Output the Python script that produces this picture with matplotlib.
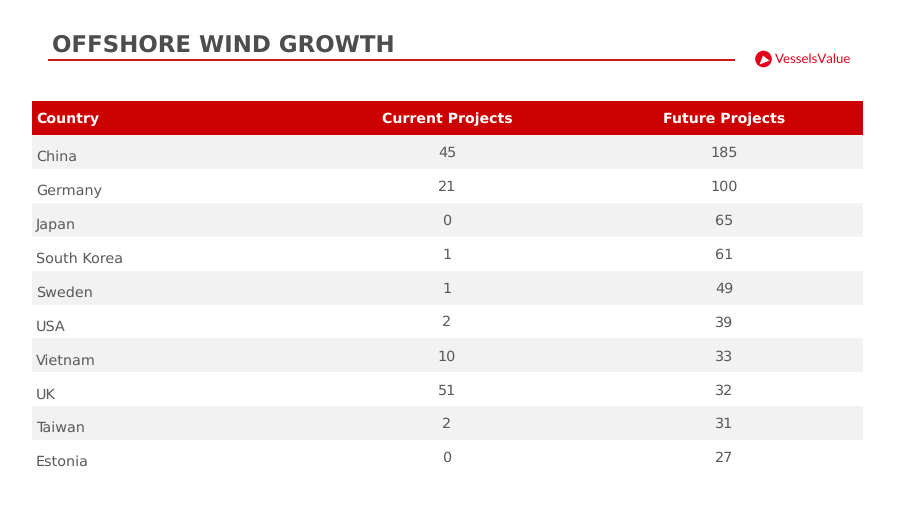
import matplotlib
matplotlib.use('Agg')
import matplotlib.pyplot as plt
from matplotlib.patches import Rectangle, Circle, Polygon

# table contents
columns = ['Country', 'Current Projects', 'Future Projects']
countries = ['China', 'Germany', 'Japan', 'South Korea', 'Sweden', 'USA',
             'Vietnam', 'UK', 'Taiwan', 'Estonia']
current_projects = [45, 21, 0, 1, 1, 2, 10, 51, 2, 0]
future_projects = [185, 100, 65, 61, 49, 39, 33, 32, 31, 27]

RED = '#cc0000'
GREY = '#595959'

plt.rcParams['font.family'] = ['DejaVu Sans']
plt.rcParams['text.hinting'] = 'no_hinting'

fig = plt.figure(figsize=(9.02, 5.08), dpi=100)
ax = fig.add_axes([0, 0, 1, 1])
ax.set_xlim(0, 902)
ax.set_ylim(508, 0)
ax.axis('off')

# title and rule
ax.text(52, 52, 'OFFSHORE WIND GROWTH', fontsize=16.5, fontweight='bold',
        color='#4d4d4d', va='baseline', ha='left')
ax.plot([48, 735], [59.5, 59.5], color=RED, lw=1.3, solid_capstyle='butt')

# logo
ax.add_patch(Circle((763.5, 59), 8.3, color='#e2001a', lw=0))
ax.add_patch(Polygon([[763, 55.5], [769.5, 60.7], [759.5, 64.5]], color='white', lw=0))
ax.text(775, 59.5, 'VesselsValue', fontsize=9.5, color='#e2001a', va='center',
        ha='left', family='Lato')

# table
left, right = 32, 863
top, header_h, row_h = 101, 34, 33.9
col_x = [36, 447, 724]

ax.add_patch(Rectangle((left, top), right - left, header_h, color=RED, lw=0))
ax.text(col_x[0], top + 22, columns[0], color='white', fontsize=10.2,
        fontweight='bold', va='baseline', ha='left')
ax.text(col_x[1], top + 22, columns[1], color='white', fontsize=10.2,
        fontweight='bold', va='baseline', ha='center')
ax.text(col_x[2], top + 22, columns[2], color='white', fontsize=10.2,
        fontweight='bold', va='baseline', ha='center')

for i, country in enumerate(countries):
    y0 = top + header_h + i * row_h
    if i % 2 == 0:
        ax.add_patch(Rectangle((left, y0), right - left, row_h, color='#f2f2f2', lw=0))
    ax.text(col_x[0], y0 + 26, country, color=GREY, fontsize=10.4, va='baseline', ha='left')
    ax.text(col_x[1], y0 + 22, str(current_projects[i]), color=GREY, fontsize=10.4,
            va='baseline', ha='center')
    ax.text(col_x[2], y0 + 22, str(future_projects[i]), color=GREY, fontsize=10.4,
            va='baseline', ha='center')

fig.savefig('out.png', dpi=100)
